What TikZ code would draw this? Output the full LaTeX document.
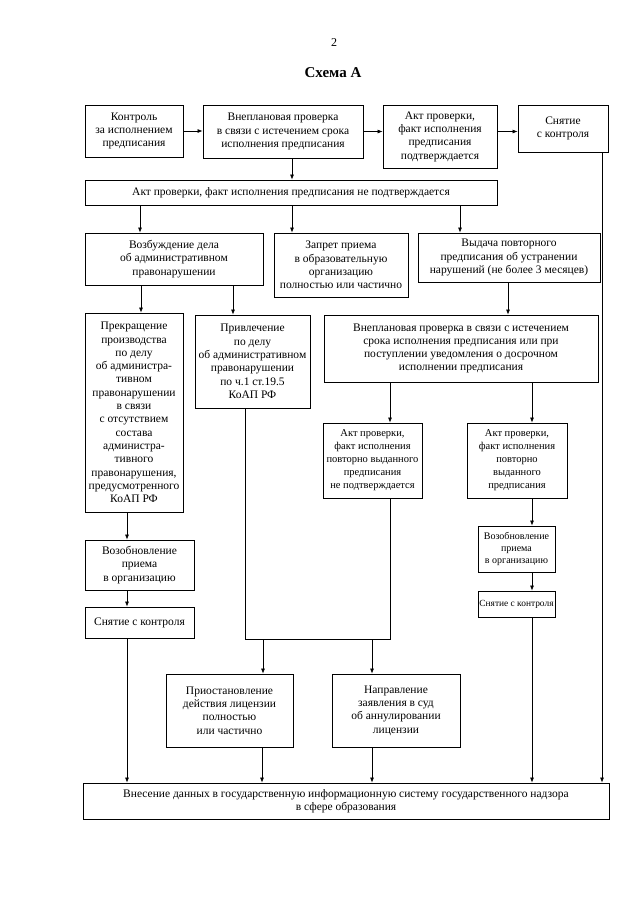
\documentclass[tikz,border=0pt]{standalone}
\usepackage{fontspec}
\setmainfont{Liberation Serif}
\usetikzlibrary{arrows.meta}

\begin{document}
\begin{tikzpicture}[x=1pt, y=-1pt,
	blok/.style={draw, line width=0.8pt, align=center, inner sep=2pt, font=\fontsize{11.5}{13.3}\selectfont},
	sred/.style={font=\fontsize{10.5}{13}\selectfont},
	melk/.style={font=\fontsize{10}{12}\selectfont},
	krokh/.style={inner sep=1pt, font=\fontsize{9.4}{11}\selectfont},
	arr/.style={line width=0.7pt, -{Latex[length=5pt, width=4pt]}},
	lin/.style={line width=0.7pt}]
	\useasboundingbox (0,0) rectangle (640,905);

	\node[font=\fontsize{12}{14}\selectfont] (nomer) at (334,43) {2};
	\node[font=\bfseries\fontsize{15}{17}\selectfont] (zagl) at (333,73) {Схема А};

	\node[blok, minimum width=98, minimum height=52] (kontrol) at (134,131) {Контроль\\за исполнением\\предписания};
	\node[blok, minimum width=160, minimum height=53] (vnepl) at (283,131.5) {Внеплановая проверка\\в связи с истечением срока\\исполнения предписания};
	\node[blok, minimum width=114, minimum height=63] (aktpod) at (440,136.5) {Акт проверки,\\факт исполнения\\предписания\\подтверждается};
	\node[blok, minimum width=90, minimum height=47] (snyat) at (563,128.5) {Снятие\\с контроля};
	\node[blok, minimum width=412, minimum height=25] (nepod) at (291,192.5) {Акт проверки, факт исполнения предписания не подтверждается};

	\node[blok, minimum width=178, minimum height=52] (vozb) at (174,259) {Возбуждение дела\\об административном\\правонарушении};
	\node[blok, minimum width=134, minimum height=64] (zapret) at (341,265) {Запрет приема\\в образовательную\\организацию\\полностью или частично};
	\node[blok, minimum width=182, minimum height=49] (vydacha) at (509,257.5) {Выдача повторного\\предписания об устранении\\нарушений (не более 3 месяцев)};

	\node[blok, minimum width=98, minimum height=199] (prekr) at (134,412.5) {Прекращение\\производства\\по делу\\об администра-\\тивном\\правонарушении\\в связи\\с отсутствием\\состава\\администра-\\тивного\\правонарушения,\\предусмотренного\\КоАП РФ};
	\node[blok, minimum width=115, minimum height=93] (privl) at (252.5,361.5) {Привлечение\\по делу\\об административном\\правонарушении\\по ч.1 ст.19.5\\КоАП РФ};
	\node[blok, minimum width=274, minimum height=67] (vnepl2) at (461,348.5) {Внеплановая проверка в связи с истечением\\срока исполнения предписания или при\\поступлении уведомления о досрочном\\исполнении предписания};

	\node[blok, sred, minimum width=99, minimum height=75] (aktne) at (372.5,460.5) {Акт проверки,\\факт исполнения\\повторно выданного\\предписания\\не подтверждается};
	\node[blok, sred, minimum width=100, minimum height=75] (aktpovt) at (517,460.5) {Акт проверки,\\факт исполнения\\повторно\\выданного\\предписания};

	\node[blok, minimum width=109, minimum height=50] (vozob1) at (139.5,565) {Возобновление\\приема\\в организацию};
	\node[blok, minimum width=109, minimum height=31] (snyat1) at (139.5,622.5) {Снятие с контроля};
	\node[blok, melk, minimum width=77, minimum height=46] (vozob2) at (516.5,549) {Возобновление\\приема\\в организацию};
	\node[blok, krokh, minimum width=77, minimum height=26] (snyat2) at (516.5,604) {Снятие с контроля};

	\node[blok, minimum width=127, minimum height=73] (priost) at (229.5,710.5) {Приостановление\\действия лицензии\\полностью\\или частично};
	\node[blok, minimum width=128, minimum height=73] (naprav) at (396,710.5) {Направление\\заявления в суд\\об аннулировании\\лицензии};

	\node[blok, minimum width=526, minimum height=36] (vnesenie) at (346,801) {Внесение данных в государственную информационную систему государственного надзора\\в сфере образования};

	\coordinate (jl) at (245,639);
	\coordinate (jr) at (390,639);

	\draw[arr] (kontrol.east) -- (kontrol.east -| vnepl.west);
	\draw[arr] (vnepl.east) -- (vnepl.east -| aktpod.west);
	\draw[arr] (vnepl.east -| aktpod.east) -- (vnepl.east -| snyat.west);
	\draw[arr] (vnepl.south -| 292,0) -- (nepod.north -| 292,0);

	\draw[arr] (nepod.south -| 140,0) -- (vozb.north -| 140,0);
	\draw[arr] (nepod.south -| 292,0) -- (zapret.north -| 292,0);
	\draw[arr] (nepod.south -| 460,0) -- (vydacha.north -| 460,0);

	\draw[arr] (vozb.south -| 141,0) -- (prekr.north -| 141,0);
	\draw[arr] (vozb.south -| 233,0) -- (privl.north -| 233,0);
	\draw[arr] (vydacha.south -| 508,0) -- (vnepl2.north -| 508,0);
	\draw[arr] (vnepl2.south -| 390,0) -- (aktne.north -| 390,0);
	\draw[arr] (vnepl2.south -| 532,0) -- (aktpovt.north -| 532,0);

	\draw[arr] (prekr.south -| 127,0) -- (vozob1.north -| 127,0);
	\draw[arr] (vozob1.south -| 127,0) -- (snyat1.north -| 127,0);
	\draw[arr] (snyat1.south -| 127,0) -- (vnesenie.north -| 127,0);

	\draw[arr] (aktpovt.south -| 532,0) -- (vozob2.north -| 532,0);
	\draw[arr] (vozob2.south -| 532,0) -- (snyat2.north -| 532,0);
	\draw[arr] (snyat2.south -| 532,0) -- (vnesenie.north -| 532,0);

	\draw[arr] (snyat.south -| 602,0) -- (vnesenie.north -| 602,0);

	\draw[lin] (privl.south -| jl) -- (jl) -- (jr) -- (aktne.south -| jr);
	\draw[arr] (jl -| 263,0) -- (priost.north -| 263,0);
	\draw[arr] (jr -| 372,0) -- (naprav.north -| 372,0);

	\draw[arr] (priost.south -| 262,0) -- (vnesenie.north -| 262,0);
	\draw[arr] (naprav.south -| 372,0) -- (vnesenie.north -| 372,0);
\end{tikzpicture}
\end{document}
